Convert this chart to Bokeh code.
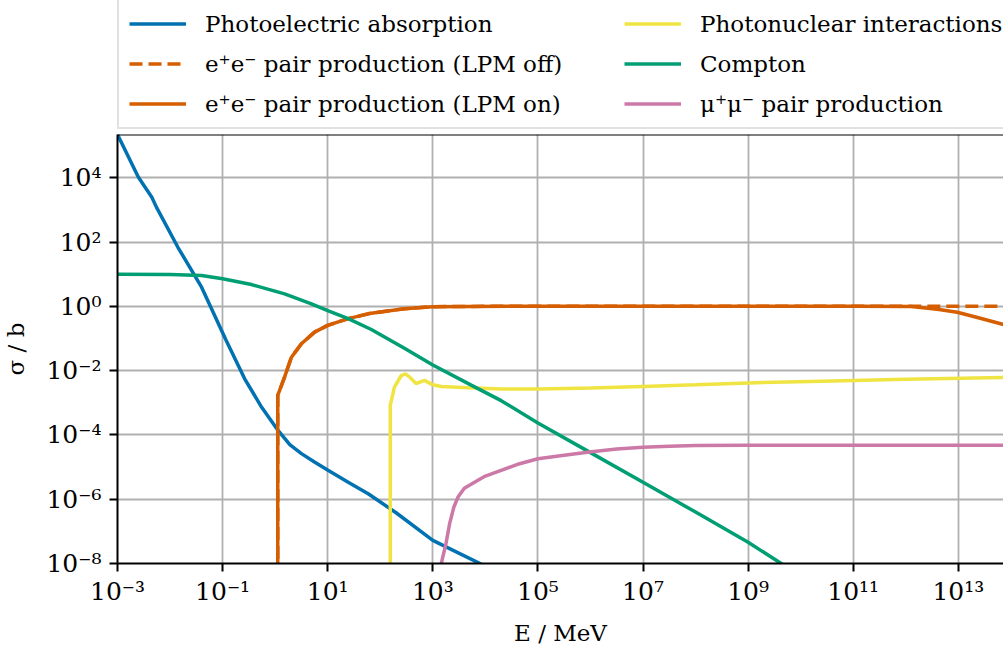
from bokeh.plotting import figure
from bokeh.layouts import column
from bokeh.models import (FixedTicker, CustomJSTickFormatter, Legend, LegendItem,
                          Span, Range1d)
from bokeh.embed import file_html
from bokeh.resources import INLINE

# ---------------- data (E in MeV, sigma in barn) ----------------
photo_E = [1e-3, 2.5e-3, 4.5e-3, 5.5e-3, 1.41e-2, 3.98e-2, 0.117, 0.263, 0.55,
           1.135, 1.9, 3.16, 5.6, 9.77, 25, 58.9, 200, 1e3, 7.24e3, 8.9e3]
photo_sigma = [2.24e5, 1.05e4, 2.51e3, 1.23e3, 69.2, 3.98, 8.7e-2, 5.6e-3, 7.4e-4,
               1.38e-4, 5.0e-5, 2.63e-5, 1.45e-5, 8.3e-6, 3.3e-6, 1.48e-6,
               3.8e-7, 5.25e-8, 1.07e-8, 8.9e-9]

pair_E = [1.12, 1.12, 1.51, 2.04, 3.16, 5.62, 10, 24.5, 67.6, 288, 1e3, 5.37e3,
          1e5, 1e8, 1e11, 1.26e12, 3.98e12, 9.55e12, 2.51e13, 7.94e13]
pair_sigma_lpm_off = [1e-12, 1.7e-3, 6.3e-3, 2.63e-2, 6.92e-2, 0.158, 0.257, 0.417,
                      0.617, 0.851, 0.98, 1.0, 1.02, 1.02, 1.02, 1.02, 1.02, 1.02,
                      1.02, 1.02]
pair_sigma_lpm_on = [1e-12, 1.7e-3, 6.3e-3, 2.63e-2, 6.92e-2, 0.158, 0.257, 0.417,
                     0.617, 0.851, 0.98, 1.0, 1.02, 1.02, 1.02, 1.0, 0.813, 0.661,
                     0.437, 0.263]

photonuc_E = [155, 155, 186, 251, 302, 363, 479, 692, 1.0e3, 1.45e3, 4.68e3, 2e4,
              1e5, 1e6, 1e7, 1e8, 1e9, 2.51e10, 1e12, 7.94e13]
photonuc_sigma = [1e-12, 8.3e-4, 3.09e-3, 7.08e-3, 7.94e-3, 6.31e-3, 3.98e-3,
                  5.01e-3, 3.63e-3, 3.24e-3, 2.95e-3, 2.69e-3, 2.69e-3, 2.88e-3,
                  3.24e-3, 3.63e-3, 4.17e-3, 4.68e-3, 5.37e-3, 6.17e-3]

compton_E = [1e-3, 1e-2, 3.98e-2, 0.1, 0.355, 1.51, 4.9, 10, 24.5, 67.6, 288, 1e3,
             5.37e3, 2e4, 1e5, 1e6, 1e7, 1e8, 1e9, 4.27e9, 5.62e9]
compton_sigma = [10.0, 9.77, 9.12, 7.24, 4.79, 2.45, 1.20, 0.741, 0.417, 0.191,
                 5.0e-2, 1.51e-2, 3.55e-3, 1.17e-3, 2.34e-4, 2.82e-5, 3.39e-6,
                 3.98e-7, 4.57e-8, 1e-8, 7.6e-9]

mupair_E = [1.32e3, 1.45e3, 1.78e3, 2.09e3, 2.51e3, 3.02e3, 3.98e3, 7.24e3, 1e4,
            3.98e4, 1e5, 3.16e5, 9.55e5, 3.16e6, 1e7, 3.16e7, 1e8, 1e9, 7.94e13]
mupair_sigma = [1e-9, 1e-8, 4.17e-8, 1.74e-7, 5.62e-7, 1.17e-6, 2.19e-6, 3.89e-6,
                5.25e-6, 1.2e-5, 1.82e-5, 2.34e-5, 2.95e-5, 3.63e-5, 4.17e-5,
                4.47e-5, 4.68e-5, 4.79e-5, 4.79e-5]

x_ticks = [1e-3, 1e-1, 1e1, 1e3, 1e5, 1e7, 1e9, 1e11, 1e13]
y_ticks = [1e-8, 1e-6, 1e-4, 1e-2, 1e0, 1e2, 1e4]

labels = ["Photoelectric absorption",
          "e\u207ae\u207b pair production (LPM off)",
          "e\u207ae\u207b pair production (LPM on)",
          "Photonuclear interactions",
          "Compton",
          "\u03bc\u207a\u03bc\u207b pair production"]
colors = ["#0072B2", "#D55E00", "#D55E00", "#F0E442", "#009E73", "#CC79A7"]
dashes = ["solid", "13 6", "solid", "solid", "solid", "solid"]

FONT = "DejaVu Serif"
FS = "23px"
TFS = "25px"
LW = 3.5
TOP_H = 132

# ---------------- main plot ----------------
p = figure(width=1003, height=648 - TOP_H, x_axis_type="log", y_axis_type="log",
           x_range=Range1d(1e-3, 7.24e13), y_range=Range1d(1e-8, 2.24e5),
           output_backend="svg", toolbar_location=None,
           min_border_left=116, min_border_right=0, min_border_top=2,
           min_border_bottom=85)
p.outline_line_color = None
p.background_fill_color = "white"
p.border_fill_color = "white"

series = [(photo_E, photo_sigma), (pair_E, pair_sigma_lpm_off),
          (pair_E, pair_sigma_lpm_on), (photonuc_E, photonuc_sigma),
          (compton_E, compton_sigma), (mupair_E, mupair_sigma)]
for (xs, ys), c, d in zip(series, colors, dashes):
    p.line(xs, ys, line_color=c, line_width=LW, line_dash=d)

# top spine
p.add_layout(Span(location=2.24e5, dimension="width", line_color="black",
                  line_width=2))

fmt = CustomJSTickFormatter(code="""
const sup = {'-':'\u207b','0':'\u2070','1':'\u00b9','2':'\u00b2','3':'\u00b3',
             '4':'\u2074','5':'\u2075','6':'\u2076','7':'\u2077','8':'\u2078','9':'\u2079'};
const e = Math.round(Math.log10(tick));
return '10' + String(e).split('').map(c => sup[c]).join('');
""")

p.xaxis.ticker = FixedTicker(ticks=x_ticks)
p.yaxis.ticker = FixedTicker(ticks=y_ticks)
p.xgrid.ticker = FixedTicker(ticks=x_ticks)
p.ygrid.ticker = FixedTicker(ticks=y_ticks)
for ax in (p.xaxis[0], p.yaxis[0]):
    ax.formatter = fmt
    ax.axis_line_color = "black"
    ax.axis_line_width = 2
    ax.major_tick_line_color = "black"
    ax.major_tick_line_width = 2
    ax.major_tick_out = 8
    ax.major_tick_in = 0
    ax.minor_tick_line_color = None
    ax.major_label_text_font = FONT
    ax.major_label_text_font_size = TFS
    ax.major_label_text_color = "black"
    ax.axis_label_text_font = FONT
    ax.axis_label_text_font_size = FS
    ax.axis_label_text_font_style = "normal"
    ax.axis_label_text_color = "black"
p.xaxis.axis_label = "E / MeV"
p.yaxis.axis_label = "\u03c3 / b"
p.xaxis.major_label_standoff = 5
p.yaxis.major_label_standoff = 8
p.xaxis.axis_label_standoff = 11
p.yaxis.axis_label_standoff = 14
for g in (p.xgrid[0], p.ygrid[0]):
    g.grid_line_color = "#b0b0b0"
    g.grid_line_width = 1.8

# ---------------- legend strip above the axes ----------------
top = figure(width=1003, height=TOP_H, x_range=Range1d(0, 1), y_range=Range1d(0, 1),
             x_axis_type=None, y_axis_type=None, output_backend="svg",
             toolbar_location=None, min_border=0)
top.outline_line_color = None
top.xgrid.visible = False
top.ygrid.visible = False
# off-range handles: they only give the legend its line styles
handles = [top.line([-10, -9], [-10, -9], line_color=c, line_width=LW, line_dash=d)
           for c, d in zip(colors, dashes)]
items = [LegendItem(label=l, renderers=[r]) for l, r in zip(labels, handles)]
legend = Legend(items=items, ncols=2, location=(0, 3),
                label_text_font=FONT, label_text_font_size=FS,
                label_text_color="black",
                glyph_width=57, glyph_height=27, label_height=27,
                label_standoff=19, label_width=406, spacing=13, padding=10,
                margin=0, border_line_color="#c4c4c4", border_line_width=2,
                background_fill_color="white", background_fill_alpha=1.0)
top.add_layout(legend, "center")

layout = column(top, p, spacing=0)
open("out.html", "w").write(file_html(layout, INLINE))
